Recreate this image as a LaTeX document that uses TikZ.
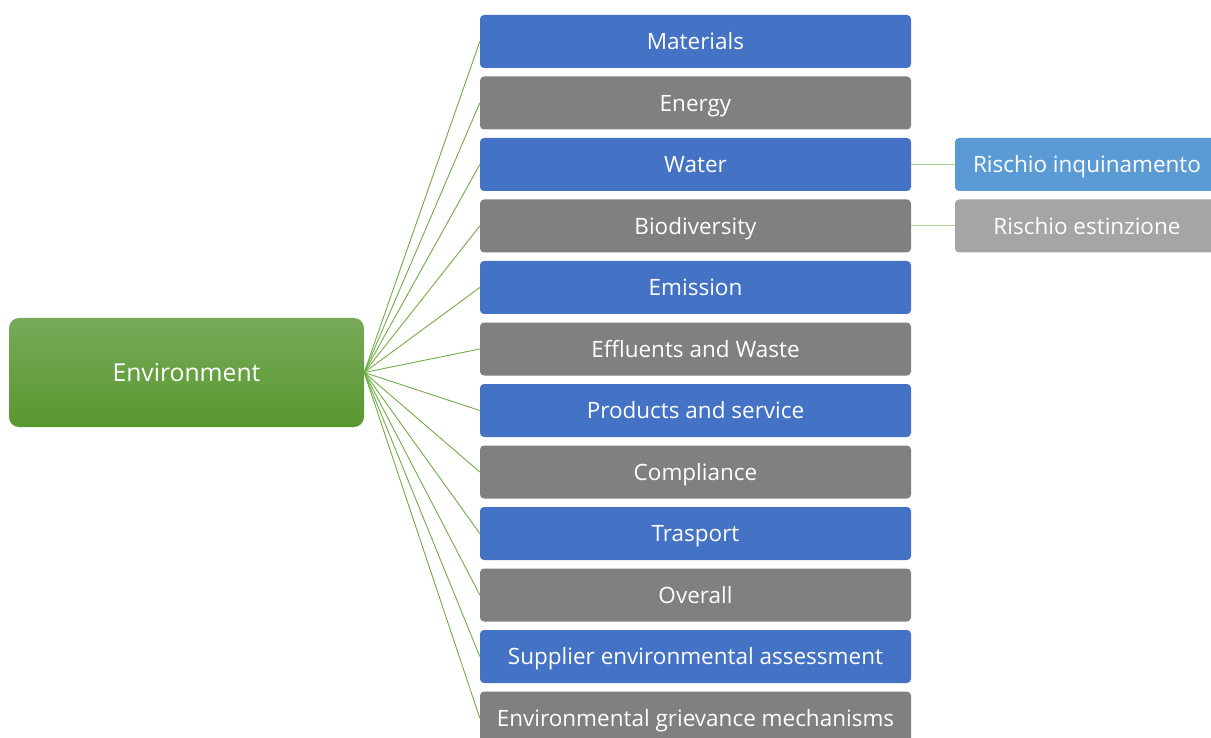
\documentclass[tikz,border=0pt]{standalone}
\usepackage{fontspec}
\setmainfont{Open Sans}
\definecolor{myblue}{HTML}{4472C4}
\definecolor{mygray}{HTML}{808080}
\definecolor{mylblue}{HTML}{5B9BD5}
\definecolor{mylgray}{HTML}{A5A5A5}
\definecolor{mygreen}{HTML}{70AD47}
\definecolor{mylightgreen}{HTML}{A9D18E}
\definecolor{envtop}{RGB}{120,170,90}
\definecolor{envbot}{RGB}{88,152,46}
\begin{document}
\begin{tikzpicture}[x=1pt,y=-1pt,
  txt/.style={text=white, font=\fontsize{22.5}{26}\selectfont, text height=16.1pt, text depth=0pt, inner sep=0pt},
  box/.style={txt, rounded corners=4pt, minimum width=431pt, minimum height=53pt},
  bluebox/.style={box, fill=myblue},
  graybox/.style={box, fill=mygray},
  sub/.style={txt, rounded corners=4pt, minimum width=264pt, minimum height=53pt},
  link/.style={draw=mygreen, line width=0.9pt},
  sublink/.style={draw=mylightgreen, line width=1pt}]
\useasboundingbox (0,0) rectangle (1211,738);
\node[txt, font=\fontsize{24.7}{28}\selectfont, text height=17.6pt, rounded corners=10pt, minimum width=355pt, minimum height=109pt, top color=envtop, bottom color=envbot] (env) at (186.5,372.5) {Environment};
\node[bluebox] (b1) at (695.5,41.5) {Materials};
\node[graybox] (b2) at (695.5,103) {Energy};
\node[bluebox] (b3) at (695.5,164.5) {Water};
\node[graybox] (b4) at (695.5,226) {Biodiversity};
\node[bluebox] (b5) at (695.5,287.5) {Emission};
\node[graybox] (b6) at (695.5,349) {Effluents and Waste};
\node[bluebox] (b7) at (695.5,410.5) {Products and service};
\node[graybox] (b8) at (695.5,472) {Compliance};
\node[bluebox] (b9) at (695.5,533.5) {Trasport};
\node[graybox] (b10) at (695.5,595) {Overall};
\node[bluebox] (b11) at (695.5,656.5) {Supplier environmental assessment};
\node[graybox] (b12) at (695.5,718) {Environmental grievance mechanisms};
\node[sub, fill=mylblue] (r1) at (1087,164.5) {Rischio inquinamento};
\node[sub, fill=mylgray] (r2) at (1087,226) {Rischio estinzione};
\foreach \i in {1,...,12} {
  \path[link] (env.east) -- (b\i.west);
}
\path[sublink] (b3.east) -- (r1.west);
\path[sublink] (b4.east) -- (r2.west);
\end{tikzpicture}
\end{document}
